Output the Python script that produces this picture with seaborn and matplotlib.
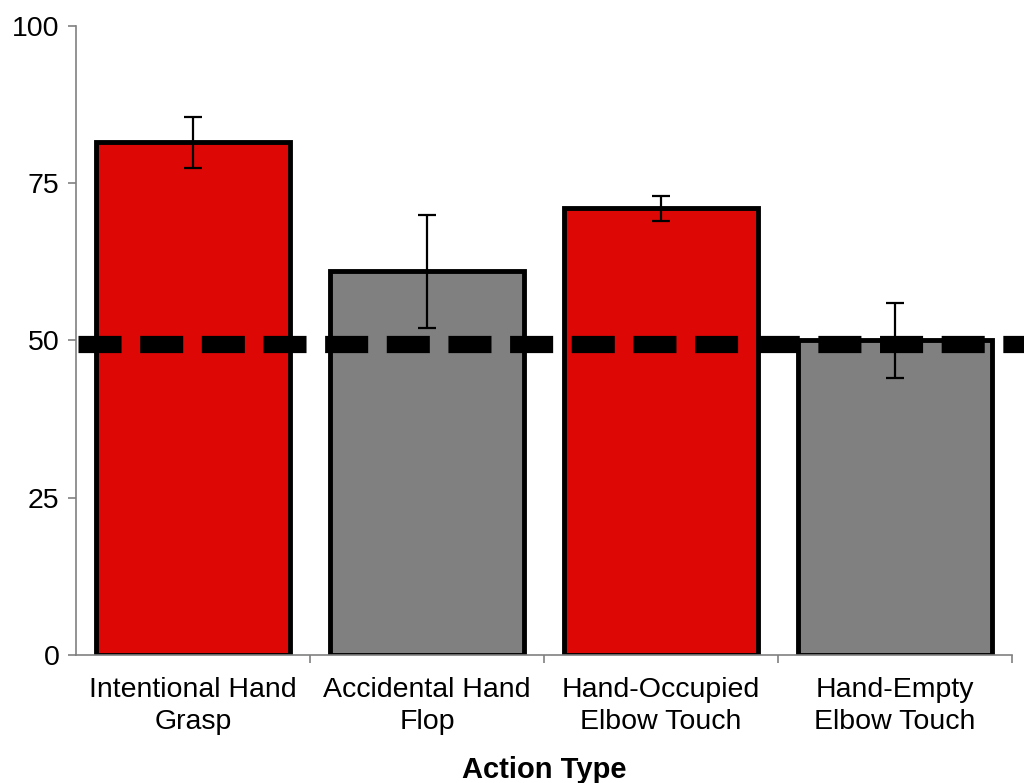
import numpy as np
import pandas as pd
import matplotlib
matplotlib.use("Agg")
import matplotlib.pyplot as plt
import seaborn as sns

categories = ["Intentional Hand\nGrasp", "Accidental Hand\nFlop",
              "Hand-Occupied\nElbow Touch", "Hand-Empty\nElbow Touch"]
means = [81.5, 61, 71, 50]
errors = [4, 9, 2, 6]
bar_colors = ["#DD0806", "#808080", "#DD0806", "#808080"]
chance = 49.5

sns.set_style("white")
plt.rcParams["font.family"] = ["Liberation Sans", "DejaVu Sans"]
plt.rcParams["text.color"] = "black"
plt.rcParams["axes.labelcolor"] = "black"
plt.rcParams["xtick.color"] = "black"
plt.rcParams["ytick.color"] = "black"

df = pd.DataFrame({"action": categories, "score": means})

fig = plt.figure(figsize=(10.24, 7.83), dpi=100)
ax = fig.add_axes([0.0742, 0.1635, 0.914, 0.8033])

sns.barplot(data=df, x="action", y="score", hue="action", palette=bar_colors,
            saturation=1, errorbar=None, width=0.83, edgecolor="black",
            linewidth=3.5, legend=False, ax=ax, zorder=2)

ax.errorbar(np.arange(len(categories)), means, yerr=errors, fmt="none",
            ecolor="black", elinewidth=1.6, capsize=6.5, capthick=1.6, zorder=3)

# chance line, runs off the right edge like the original
ax.plot([-0.49, 3.56], [chance, chance], color="black", linewidth=12.4,
        linestyle=(0, (2.5, 1.08)), dash_capstyle="butt", clip_on=False,
        zorder=4)

ax.set_xlim(-0.5, len(categories) - 0.5)
ax.set_ylim(0, 100)
ax.set_yticks([0, 25, 50, 75, 100])
ax.set_xticks(np.arange(len(categories)))
ax.set_xticklabels(categories, linespacing=1.3)
ax.set_xticks(np.arange(len(categories)) + 0.5, minor=True)

for side in ["top", "right"]:
    ax.spines[side].set_visible(False)
for side in ["left", "bottom"]:
    ax.spines[side].set_color("#808080")
    ax.spines[side].set_linewidth(1.2)

ax.tick_params(axis="y", which="major", direction="out", length=6, width=1.2,
               color="#808080", labelsize=20.5, left=True, pad=6)
ax.tick_params(axis="x", which="major", length=0, labelsize=20.5, pad=16)
ax.tick_params(axis="x", which="minor", direction="out", length=6, width=1.2,
               color="#808080", bottom=True)

ax.set_xlabel("Action Type", fontsize=21, fontweight="bold", labelpad=15)
ax.set_ylabel("")

fig.savefig("out.png", dpi=100)
